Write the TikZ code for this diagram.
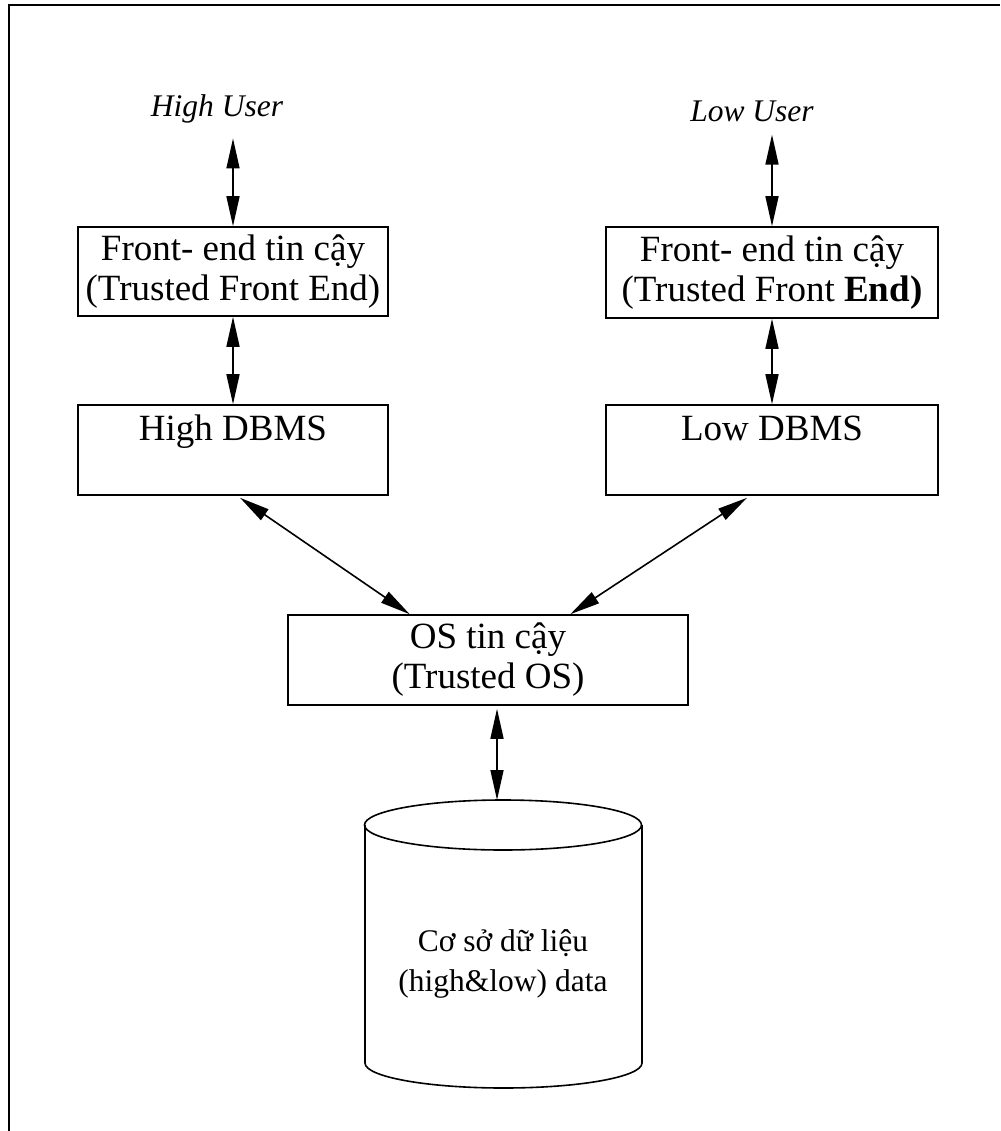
\documentclass[tikz,border=0pt]{standalone}
\usepackage{fontspec}
\setmainfont{Liberation Serif}
\usetikzlibrary{arrows.meta,calc}
\begin{document}
\begin{tikzpicture}[x=1pt,y=-1pt,
  box/.style={draw,line width=1.6pt,inner sep=0pt,align=center,
    font=\fontsize{37}{40}\selectfont},
  user/.style={font=\itshape\fontsize{31.5}{34}\selectfont,inner sep=0pt},
  link/.style={line width=1.6pt,
    {Triangle[length=30pt,width=13pt]}-{Triangle[length=30pt,width=13pt]}},
  frame/.style={line width=2.5pt},
  drum/.style={line width=1.6pt}]
\useasboundingbox (0,0) rectangle (1000,1131);
% open frame: top and left edges only
\draw[frame] (9,1131) -- (9,5) -- (1000,5);

% users
\node[user] (hu) at (217,109) {High User};
\node[user] (lu) at (752,111) {Low User};

% trusted front ends
\node[box,minimum width=310pt,minimum height=89pt] (hfe) at (233,271.5)
  {Front- end tin cậy\\(Trusted Front End)};
\node[box,minimum width=332pt,minimum height=91pt] (lfe) at (772,272.5)
  {Front- end tin cậy\\(Trusted Front \textbf{End)}};

% DBMS boxes
\node[box,minimum width=310pt,minimum height=90pt] (hd) at (233,450)
  {High DBMS\\[4pt]~};
\node[box,minimum width=332pt,minimum height=90pt] (ld) at (772,450)
  {Low DBMS\\[4pt]~};

% trusted OS
\node[box,minimum width=400pt,minimum height=90pt] (os) at (488,660)
  {OS tin cậy\\(Trusted OS)};

% database drum
\coordinate (dbtop) at (497,800);
\draw[drum] (503,825) ellipse [x radius=138.5, y radius=25];
\draw[drum] (365,825) -- (365,1063)
  arc[start angle=180, end angle=0, x radius=138.5, y radius=25] -- (642,825);
\node[font=\fontsize{31.5}{40}\selectfont,align=center,inner sep=0pt] (db) at (503,964)
  {Cơ sở dữ liệu\\(high\&low) data};

% connectors
\draw[link,shorten <=15pt] (hu.south -| hfe.north) -- (hfe.north);
\draw[link,shorten <=13pt] (lu.south -| lfe.north) -- (lfe.north);
\draw[link] (hfe.south) -- (hd.north);
\draw[link] (lfe.south) -- (ld.north);
\draw[link] ($(hd.south)+(7,2)$) -- ($(os.north west)!0.305!(os.north east)$);
\draw[link] ($(ld.south)+(-25,2)$) -- ($(os.north west)!0.705!(os.north east)$);
\draw[link] ($(os.south -| dbtop)+(0,3)$) -- (dbtop);
\end{tikzpicture}
\end{document}
